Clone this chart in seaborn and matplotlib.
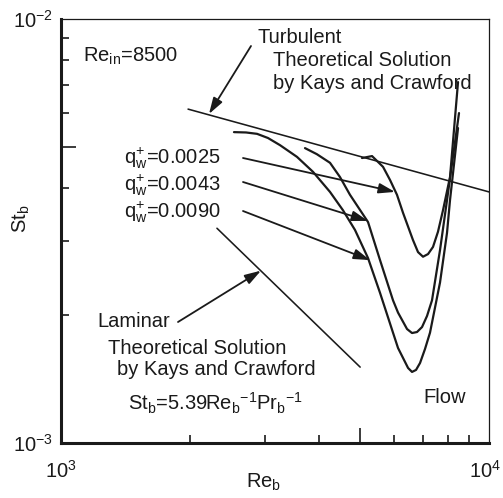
import numpy as np
import pandas as pd
import matplotlib
matplotlib.use("Agg")
import matplotlib.pyplot as plt
from matplotlib.ticker import LogLocator, NullFormatter
from matplotlib.transforms import ScaledTranslation
import seaborn as sns

# ---------------- data ----------------
q0090_re = [2536, 2706, 2871, 3045, 3249, 3559, 3880, 4251, 4558, 4863, 5216, 5564,
            5967, 6130, 6470, 6609, 6753, 6900, 7087, 7280, 7683, 7978, 8108, 8465]
q0090_st = [5.41e-3, 5.40e-3, 5.36e-3, 5.24e-3, 5.04e-3, 4.73e-3, 4.36e-3, 3.91e-3,
            3.54e-3, 3.18e-3, 2.73e-3, 2.26e-3, 1.82e-3, 1.675e-3, 1.503e-3, 1.471e-3,
            1.487e-3, 1.544e-3, 1.666e-3, 1.82e-3, 2.39e-3, 3.13e-3, 3.74e-3, 5.53e-3]

q0043_re = [3716, 3960, 4251, 4485, 4733, 5216, 5564, 5967, 6130, 6434, 6609, 6789,
            6975, 7164, 7359, 7683, 7978, 8510]
q0043_st = [4.96e-3, 4.80e-3, 4.58e-3, 4.24e-3, 3.85e-3, 3.32e-3, 2.70e-3, 2.17e-3,
            2.03e-3, 1.857e-3, 1.817e-3, 1.827e-3, 1.877e-3, 1.993e-3, 2.17e-3,
            2.85e-3, 3.74e-3, 6.00e-3]

q0025_re = [5050, 5330, 5655, 5873, 6095, 6297, 6644, 6826, 7012, 7204, 7399, 7600,
            7808, 8108, 8465]
q0025_st = [4.70e-3, 4.75e-3, 4.48e-3, 4.17e-3, 3.85e-3, 3.49e-3, 3.01e-3, 2.82e-3,
            2.75e-3, 2.79e-3, 2.90e-3, 3.15e-3, 3.54e-3, 4.24e-3, 7.10e-3]

turb_re = [1981, 10000]
turb_st = [6.13e-3, 3.91e-3]

lam_re = [2314, 5000]
lam_st = [3.21e-3, 1.51e-3]

q_labels = ["0.0025", "0.0043", "0.0090"]
xticks_major = [1e3, 1e4]
yticks_major = [1e-3, 1e-2]

# ---------------- style ----------------
sns.set_theme(style="white")
plt.rcParams["font.family"] = ["Liberation Sans", "DejaVu Sans"]
plt.rcParams["mathtext.default"] = "regular"
plt.rcParams["mathtext.fontset"] = "custom"
plt.rcParams["mathtext.rm"] = "Liberation Sans"
plt.rcParams["mathtext.it"] = "Liberation Sans"
plt.rcParams["mathtext.sf"] = "Liberation Sans"

FS = 14.5
INK = "#1a1a1a"

fig = plt.figure(figsize=(5.03, 4.98), dpi=100)
ax = fig.add_axes([61 / 503, 1 - 443 / 498, 428 / 503, 424 / 498])


def P(px, py):
    """pixel position -> axes fraction"""
    return ((px - 61) / 428, (443 - py) / 424)


curves = [(q0090_re, q0090_st), (q0043_re, q0043_st), (q0025_re, q0025_st)]
for re_, st_ in curves:
    df = pd.DataFrame({"Re": re_, "St": st_})
    sns.lineplot(data=df, x="Re", y="St", ax=ax, sort=False, estimator=None,
                 color=INK, lw=1.6)

for re_, st_ in [(turb_re, turb_st), (lam_re, lam_st)]:
    df = pd.DataFrame({"Re": re_, "St": st_})
    sns.lineplot(data=df, x="Re", y="St", ax=ax, sort=False, estimator=None,
                 color=INK, lw=1.15)

ax.set_xscale("log")
ax.set_yscale("log")
ax.set_xlim(1e3, 1e4)
ax.set_ylim(1e-3, 1e-2)

# ticks
ax.set_xticks(xticks_major)
ax.set_yticks(yticks_major)
ax.xaxis.set_minor_locator(LogLocator(base=10, subs=np.arange(2, 10)))
ax.yaxis.set_minor_locator(LogLocator(base=10, subs=np.arange(2, 10)))
ax.xaxis.set_minor_formatter(NullFormatter())
ax.yaxis.set_minor_formatter(NullFormatter())
ax.tick_params(which="major", direction="in", length=0, labelsize=FS, colors=INK)
ax.tick_params(axis="x", which="major", pad=12)
ax.tick_params(axis="y", which="major", pad=6)
ax.tick_params(which="minor", direction="in", length=5.5, width=1.2, color=INK,
               left=True, bottom=True, top=False, right=False)
fig.canvas.draw()
for loc, tick in zip(ax.xaxis.get_minorticklocs(), ax.xaxis.get_minor_ticks()):
    if abs(loc - 5000) < 1:
        tick.tick1line.set_markersize(11)
for loc, tick in zip(ax.yaxis.get_minorticklocs(), ax.yaxis.get_minor_ticks()):
    if abs(loc - 5e-3) < 1e-6:
        tick.tick1line.set_markersize(11)
# keep the 10^4 label inside the canvas
last = ax.xaxis.get_major_ticks()[-1].label1
last.set_transform(last.get_transform() + ScaledTranslation(-3 / 72, 0, fig.dpi_scale_trans))

for side in ["left", "bottom"]:
    ax.spines[side].set_linewidth(2.2)
    ax.spines[side].set_color(INK)
for side in ["top", "right"]:
    ax.spines[side].set_linewidth(0.9)
    ax.spines[side].set_color(INK)

ax.set_xlabel("Re$_b$", fontsize=FS, color=INK)
ax.set_ylabel("St$_b$", fontsize=FS, color=INK)
ax.xaxis.set_label_coords(0.474, -0.068)
ax.yaxis.set_label_coords(-0.068, 0.53)
ax.xaxis.label.set_va("top")

# ---------------- texts ----------------
def txt(px, py, s):
    ax.text(*P(px, py), s, transform=ax.transAxes, fontsize=FS, color=INK,
            ha="left", va="baseline")

txt(83, 62, "Re$_{in}$=8500")
txt(258, 43, "Turbulent")
txt(273, 66, "Theoretical Solution")
txt(273, 89, "by Kays and Crawford")
txt(97, 327, "Laminar")
txt(108, 354, "Theoretical Solution")
txt(117, 375, "by Kays and Crawford")
txt(128, 410, "St$_b$=5.39Re$_b{}^{-1}$Pr$_b{}^{-1}$")
txt(423, 403, "Flow")

for lab, by in zip(q_labels, [164, 191, 218]):
    txt(124, by, "q$^{+}_{w}$=" + lab)

# ---------------- arrows ----------------
arrow_kw = dict(arrowstyle="-|>,head_length=0.7,head_width=0.22", color=INK,
                lw=1.3, shrinkA=0, shrinkB=0, mutation_scale=14)


def arrow(tip_re, tip_st, px, py):
    ax.annotate("", xy=(tip_re, tip_st), xycoords="data",
                xytext=P(px, py), textcoords="axes fraction",
                arrowprops=arrow_kw)

arrow(2217, 5.97e-3, 251, 46)     # turbulent
arrow(6031, 3.91e-3, 243, 158)    # q = 0.0025
arrow(5216, 3.34e-3, 243, 182)    # q = 0.0043
arrow(5272, 2.70e-3, 243, 211)    # q = 0.0090
arrow(2933, 2.55e-3, 178, 322)    # laminar

fig.savefig("out.png", dpi=100)
